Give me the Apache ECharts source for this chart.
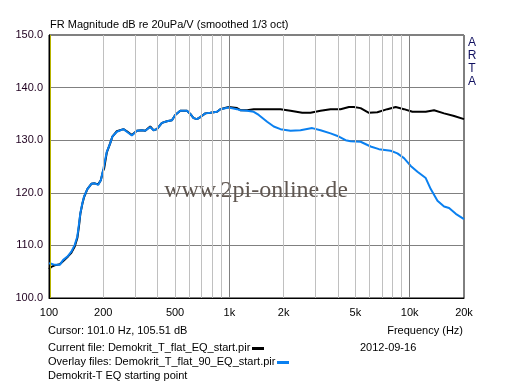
<!DOCTYPE html>
<html><head><meta charset="utf-8">
<script src="https://cdn.jsdelivr.net/npm/echarts@6/dist/echarts.min.js"></script>
<style>html,body{margin:0;padding:0;background:#fff}#c{width:512px;height:386px}</style>
</head><body><div id="c"></div>
<script>
// ---- data ----
var blueFreq = [100,103,107.6,114.7,119.6,127.5,133,138.9,143.6,146.8,149.2,153.1,156.5,163.2,171.8,179.4,187.2,193.8,199.5,202.1,209.2,218.3,224.7,237.7,258.7,270.2,288,307,327.3,341.5,364,379.7,396.6,422.8,450.8,480.5,501,534.2,582,607.3,633.5,661.5,690,735.6,784.3,854.6,891,991,1103,1151,1254,1365,1455,1620,1763,1920,2183,2480,2880,3203,3640,4048,4411,4701,5342,6072,6752,7842,8545,9297,10130,11040,12270,13080,14250,15510,16530,18010,20000];
var blueDb = [106.6,106.5,106.3,106.3,107.2,108.0,108.8,110.1,111.7,114.2,116.1,118.0,119.3,120.7,121.7,121.8,121.5,122.4,124.3,124.6,127.8,129.4,130.7,131.6,132.1,131.6,130.9,131.8,131.9,131.8,132.5,131.9,132.1,133.3,133.6,133.8,134.8,135.6,135.6,135.0,134.2,134.0,134.4,135.1,135.2,135.4,135.9,136.2,135.9,135.7,135.6,135.4,134.8,133.5,132.6,132.1,131.8,131.9,132.3,131.9,131.3,130.7,130.0,129.8,129.7,128.8,128.3,128.0,127.5,126.6,125.1,124.0,122.8,120.7,118.5,117.4,117.1,116.0,115.0];

var blackFreq = [100,103,107.6,114.7,119.6,127.5,133,138.9,143.6,146.8,149.2,153.1,156.5,163.2,171.8,179.4,187.2,193.8,199.5,202.1,209.2,218.3,224.7,237.7,258.7,270.2,288,307,327.3,341.5,364,379.7,396.6,422.8,450.8,480.5,501,534.2,582,607.3,633.5,661.5,690,735.6,784.3,854.6,891,991,1103,1151,1254,1365,1690,1920,2183,2535,2818,3203,3640,4137,4601,4905,5342,5940,6617,7517,8360,9297,10350,12270,13650,15510,17630,20000];
var blackDb = [105.5,105.9,106.2,106.4,107.0,107.9,108.6,109.8,111.4,113.8,116.0,117.9,119.2,120.7,121.7,121.8,121.6,122.4,124.2,124.6,127.7,129.4,130.7,131.7,132.1,131.7,131.0,131.8,131.9,131.8,132.6,131.9,132.1,133.3,133.6,133.8,134.8,135.6,135.6,135.0,134.2,134.0,134.4,135.1,135.2,135.4,135.9,136.3,136.1,135.7,135.7,135.9,135.9,135.9,135.6,135.2,135.2,135.6,135.9,135.9,136.3,136.3,136.1,135.2,135.3,135.9,136.3,135.9,135.4,135.4,135.7,135.1,134.6,134.0];

var xTickValues = [100,200,500,1000,2000,5000,10000,20000];
var xTickLabels = ['100','200','500','1k','2k','5k','10k','20k'];
var majorGridFreq = [1000,10000];
var minorGridFreq = [200,300,400,500,600,700,800,900,2000,3000,4000,5000,6000,7000,8000,9000];
var cursorFreq = 101.0;
var yMin = 100, yMax = 150, yStep = 10;

var FONT = '"Liberation Sans", Arial, sans-serif';
var FS = 11;

function zip(a,b){var r=[];for(var i=0;i<a.length;i++)r.push([a[i],b[i]]);return r;}
var mctx = document.createElement('canvas').getContext('2d');
function textW(t,font){mctx.font=font;return mctx.measureText(t).width;}

var chart = echarts.init(document.getElementById('c'), null, {renderer:'canvas'});

function vLines(arr){return arr.map(function(f){return {xAxis:f};});}

var option = {
  animation:false,
  backgroundColor:'#ffffff',
  grid:{left:49,right:48,top:35,bottom:88,show:true,borderColor:'#000',borderWidth:1,backgroundColor:'transparent'},
  xAxis:{type:'log',logBase:10,min:100,max:20000,
    axisLine:{show:true,lineStyle:{color:'#000',width:1}},
    axisTick:{show:false},axisLabel:{show:false},splitLine:{show:false}},
  yAxis:{type:'value',min:yMin,max:yMax,interval:yStep,
    axisLine:{show:true,lineStyle:{color:'#000',width:1}},
    axisTick:{show:false},
    axisLabel:{color:'#200020',fontFamily:FONT,fontSize:FS,margin:6,formatter:function(v){return v.toFixed(1);}},
    splitLine:{show:true,lineStyle:{color:'#808080',width:1}}},
  series:[
    {type:'line',data:[],silent:true,z:1,
      markLine:{silent:true,symbol:'none',label:{show:false},animation:false,
        lineStyle:{color:'#c0c0c0',width:1,type:'solid'},data:vLines(minorGridFreq)}},
    {type:'line',data:[],silent:true,z:1,
      markLine:{silent:true,symbol:'none',label:{show:false},animation:false,
        lineStyle:{color:'#808080',width:1,type:'solid'},data:vLines(majorGridFreq)}},
    {type:'line',data:[],silent:true,z:2,
      markLine:{silent:true,symbol:'none',label:{show:false},animation:false,
        lineStyle:{color:'#b8b400',width:1,type:'solid'},data:[{xAxis:cursorFreq}]}},
    {name:'current',type:'line',data:zip(blackFreq,blackDb),showSymbol:false,smooth:false,z:3,
      lineStyle:{color:'#000000',width:2}},
    {name:'overlay',type:'line',data:zip(blueFreq,blueDb),showSymbol:false,smooth:false,z:4,
      lineStyle:{color:'#0a80f0',width:2}}
  ]
};
chart.setOption(option);

var g = [];
for (var i=0;i<xTickValues.length;i++){
  var p = chart.convertToPixel({xAxisIndex:0},xTickValues[i]);
  g.push({type:'text',x:p,y:313,style:{text:xTickLabels[i],font:FS+'px '+FONT,fill:'#000',textAlign:'center',textVerticalAlign:'middle'}});
}
var tL = 48, F = FS+'px '+FONT;
g.push({type:'text',x:50,y:25,style:{text:'FR Magnitude dB re 20uPa/V (smoothed 1/3 oct)',font:F,fill:'#000',textAlign:'left',textVerticalAlign:'middle'}});
g.push({type:'text',x:256,y:191,z:0,style:{text:'www.2pi-online.de',font:'24px "Liberation Serif", "Times New Roman", serif',fill:'#5f5650',textAlign:'center',textVerticalAlign:'middle'}});
var arta = ['A','R','T','A'];
for (var k=0;k<arta.length;k++){
  g.push({type:'text',x:472,y:43+k*13,style:{text:arta[k],font:'12px '+FONT,fill:'#101060',textAlign:'center',textVerticalAlign:'middle'}});
}
var curText = 'Current file: Demokrit_T_flat_EQ_start.pir';
var ovlText = 'Overlay files: Demokrit_T_flat_90_EQ_start.pir';
g.push({type:'text',x:tL,y:331,style:{text:'Cursor: 101.0 Hz, 105.51 dB',font:F,fill:'#000',textAlign:'left',textVerticalAlign:'middle'}});
g.push({type:'text',x:463,y:331,style:{text:'Frequency (Hz)',font:F,fill:'#000',textAlign:'right',textVerticalAlign:'middle'}});
g.push({type:'text',x:tL,y:348,style:{text:curText,font:F,fill:'#000',textAlign:'left',textVerticalAlign:'middle'}});
g.push({type:'rect',shape:{x:Math.round(tL+textW(curText,F)+2),y:347,width:12,height:3},style:{fill:'#000'}});
g.push({type:'text',x:360,y:348,style:{text:'2012-09-16',font:F,fill:'#000',textAlign:'left',textVerticalAlign:'middle'}});
g.push({type:'text',x:tL,y:362,style:{text:ovlText,font:F,fill:'#000',textAlign:'left',textVerticalAlign:'middle'}});
g.push({type:'rect',shape:{x:Math.round(tL+textW(ovlText,F)+2),y:361,width:12,height:3},style:{fill:'#0a80f0'}});
g.push({type:'text',x:tL,y:376,style:{text:'Demokrit-T EQ starting point',font:F,fill:'#000',textAlign:'left',textVerticalAlign:'middle'}});
chart.setOption({graphic:g});
</script>
</body></html>
